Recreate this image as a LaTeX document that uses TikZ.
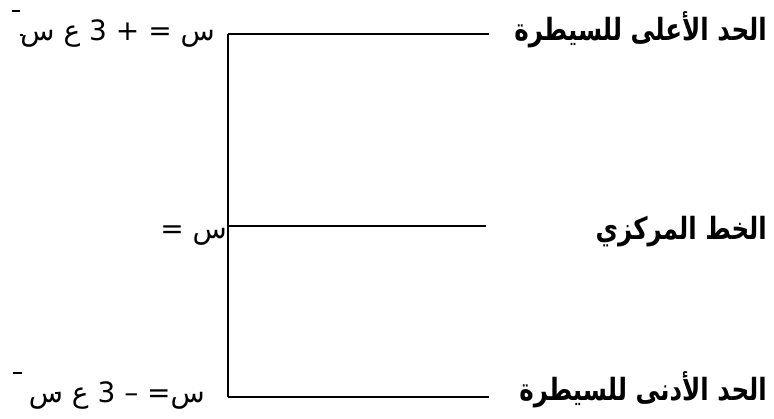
\documentclass[tikz,border=0pt]{standalone}
\usepackage{graphicx}
\usepackage{fontspec}
\TeXXeTstate=1
\newfontfamily\arabicfont[Script=Arabic]{DejaVu Sans}
\newcommand{\tallr}[1]{\scalebox{1}[1.25]{\beginR #1\endR}}
\begin{document}
\begin{tikzpicture}[x=1pt,y=-1pt]
\tikzset{
  ctl/.style={line width=2.4pt},
  barline/.style={line width=1.4pt},
  rlbl/.style={font=\arabicfont\bfseries\fontsize{24.5}{28}\selectfont, inner sep=0pt, anchor=base east},
  llbl/.style={font=\arabicfont\fontsize{28}{32}\selectfont, inner sep=0pt, anchor=base east}
}
\useasboundingbox (0,0) rectangle (774,418);
\coordinate (vt) at (228,34);
\coordinate (vm) at (228,226);
\coordinate (vb) at (228,397);
\coordinate (et) at (489,34);
\coordinate (em) at (486,226);
\coordinate (eb) at (489,397);
\draw[ctl] (vt) -- (vb);
\draw[ctl] (vt) -- (et);
\draw[ctl] (vm) -- (em);
\draw[ctl] (vb) -- (eb);
\node[rlbl] (ucl) at (767,40) {\tallr{الحد الأعلى للسيطرة}};
\node[rlbl] (cl) at (767,239) {\tallr{الخط المركزي}};
\node[rlbl] (lcl) at (767,400) {\tallr{الحد الأدنى للسيطرة}};
\node[llbl] (uf) at (215,40) {\beginR س = + 3 ع س\endR};
\node[llbl] (cf) at (227,238) {\beginR س =\endR};
\node[llbl] (lf) at (205,402) {\beginR س= – 3 ع س\endR};
\coordinate (b1a) at (12,11); \coordinate (b1b) at (20,11);
\coordinate (b2a) at (20,35); \coordinate (b2b) at (23,35);
\coordinate (b3a) at (13,373); \coordinate (b3b) at (22,373);
\coordinate (b4a) at (55,393); \coordinate (b4b) at (58,393);
\draw[barline] (b1a) -- (b1b);
\draw[barline] (b2a) -- (b2b);
\draw[barline] (b3a) -- (b3b);
\draw[barline] (b4a) -- (b4b);
\end{tikzpicture}
\end{document}
